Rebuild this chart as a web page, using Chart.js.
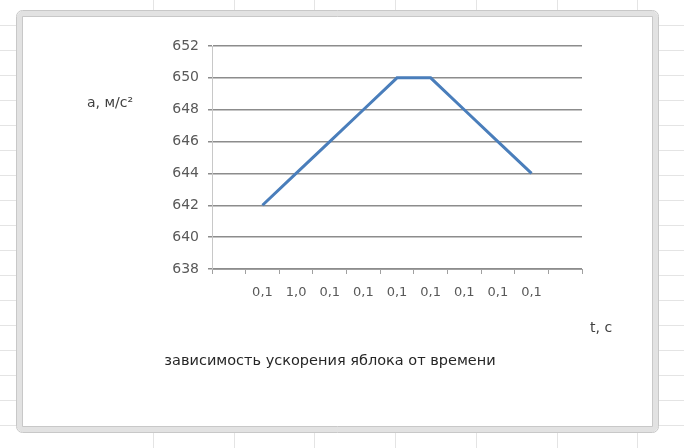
<!DOCTYPE html>
<html>
<head>
<meta charset="utf-8">
<script src="https://cdn.jsdelivr.net/npm/chart.js@4/dist/chart.umd.min.js"></script>
<style>
html,body{margin:0;padding:0;background:#fff;}
#wrap{width:684px;height:448px;position:relative;}
</style>
</head>
<body>
<div id="wrap"><canvas id="c" width="684" height="448"></canvas></div>
<script>
const categories = ['', '0,1', '1,0', '0,1', '0,1', '0,1', '0,1', '0,1', '0,1', '0,1', ''];
const accel = [null, 642, 644, 646, 648, 650, 650, 648, 646, 644, null];
const yTitle = 'a, м/с²';
const xTitle = 't, c';
const chartTitle = 'зависимость ускорения яблока от времени';
const yMin = 638, yMax = 652, yStep = 2;

const FONT = 'DejaVu Sans';

const backdrop = {
  id: 'backdrop',
  beforeDraw(chart) {
    const ctx = chart.ctx;
    ctx.save();
    ctx.fillStyle = '#ffffff';
    ctx.fillRect(0, 0, 684, 448);
    ctx.strokeStyle = '#e4e4e4';
    ctx.lineWidth = 1;
    for (let y = 25; y < 448; y += 25) {
      ctx.beginPath(); ctx.moveTo(0, y + 0.5); ctx.lineTo(684, y + 0.5); ctx.stroke();
    }
    for (let x = 153; x < 684; x += 80.7) {
      ctx.beginPath(); ctx.moveTo(Math.round(x) + 0.5, 0); ctx.lineTo(Math.round(x) + 0.5, 448); ctx.stroke();
    }
    // chart frame
    ctx.fillStyle = '#ffffff';
    ctx.strokeStyle = '#e2e2e2';
    ctx.lineWidth = 6;
    ctx.beginPath();
    ctx.roundRect(19.5, 13.5, 636, 416, 5);
    ctx.fill();
    ctx.stroke();
    ctx.strokeStyle = '#c8c8c8';
    ctx.lineWidth = 1;
    ctx.beginPath(); ctx.roundRect(16.5, 10.5, 642, 422, 6); ctx.stroke();
    ctx.beginPath(); ctx.rect(22.5, 16.5, 630, 410); ctx.stroke();
    ctx.restore();
  },
  afterDraw(chart) {
    const ctx = chart.ctx;
    ctx.save();
    ctx.fillStyle = '#404040';
    ctx.textBaseline = 'middle';
    ctx.textAlign = 'left';
    ctx.font = '14px "' + FONT + '"';
    ctx.fillText(yTitle, 87, 103);
    ctx.fillText(xTitle, 590, 328);
    ctx.fillStyle = '#262626';
    ctx.textAlign = 'center';
    ctx.font = '14.5px "' + FONT + '"';
    ctx.fillText(chartTitle, 330, 361);
    ctx.restore();
  }
};

new Chart(document.getElementById('c'), {
  type: 'line',
  data: {
    labels: categories,
    datasets: [{
      data: accel,
      borderColor: '#4a7ebb',
      borderWidth: 3,
      pointRadius: 0,
      tension: 0,
      spanGaps: false
    }]
  },
  options: {
    responsive: false,
    animation: false,
    devicePixelRatio: 1,
    layout: { padding: { left: 0, top: 46, right: 102, bottom: 0 } },
    plugins: { legend: { display: false }, tooltip: { enabled: false }, title: { display: false } },
    scales: {
      x: {
        type: 'category',
        offset: true,
        grid: { offset: true, drawOnChartArea: false, drawTicks: true, tickLength: 5, color: '#a0a0a0', lineWidth: 1 },
        border: { color: '#a0a0a0', width: 1 },
        ticks: { color: '#595959', font: { family: FONT, size: 13 }, maxRotation: 0, autoSkip: false, padding: 11 },
        afterFit(s) { s.height = 179; }
      },
      y: {
        min: yMin, max: yMax,
        ticks: { stepSize: yStep, color: '#595959', font: { family: FONT, size: 14 }, padding: 9 },
        grid: { color: '#8c8c8c', lineWidth: 1.5, drawTicks: true, tickLength: 4 },
        border: { color: '#c8c8c8', width: 1 },
        afterFit(s) { s.width = 212; }
      }
    }
  },
  plugins: [backdrop]
});
</script>
</body>
</html>
